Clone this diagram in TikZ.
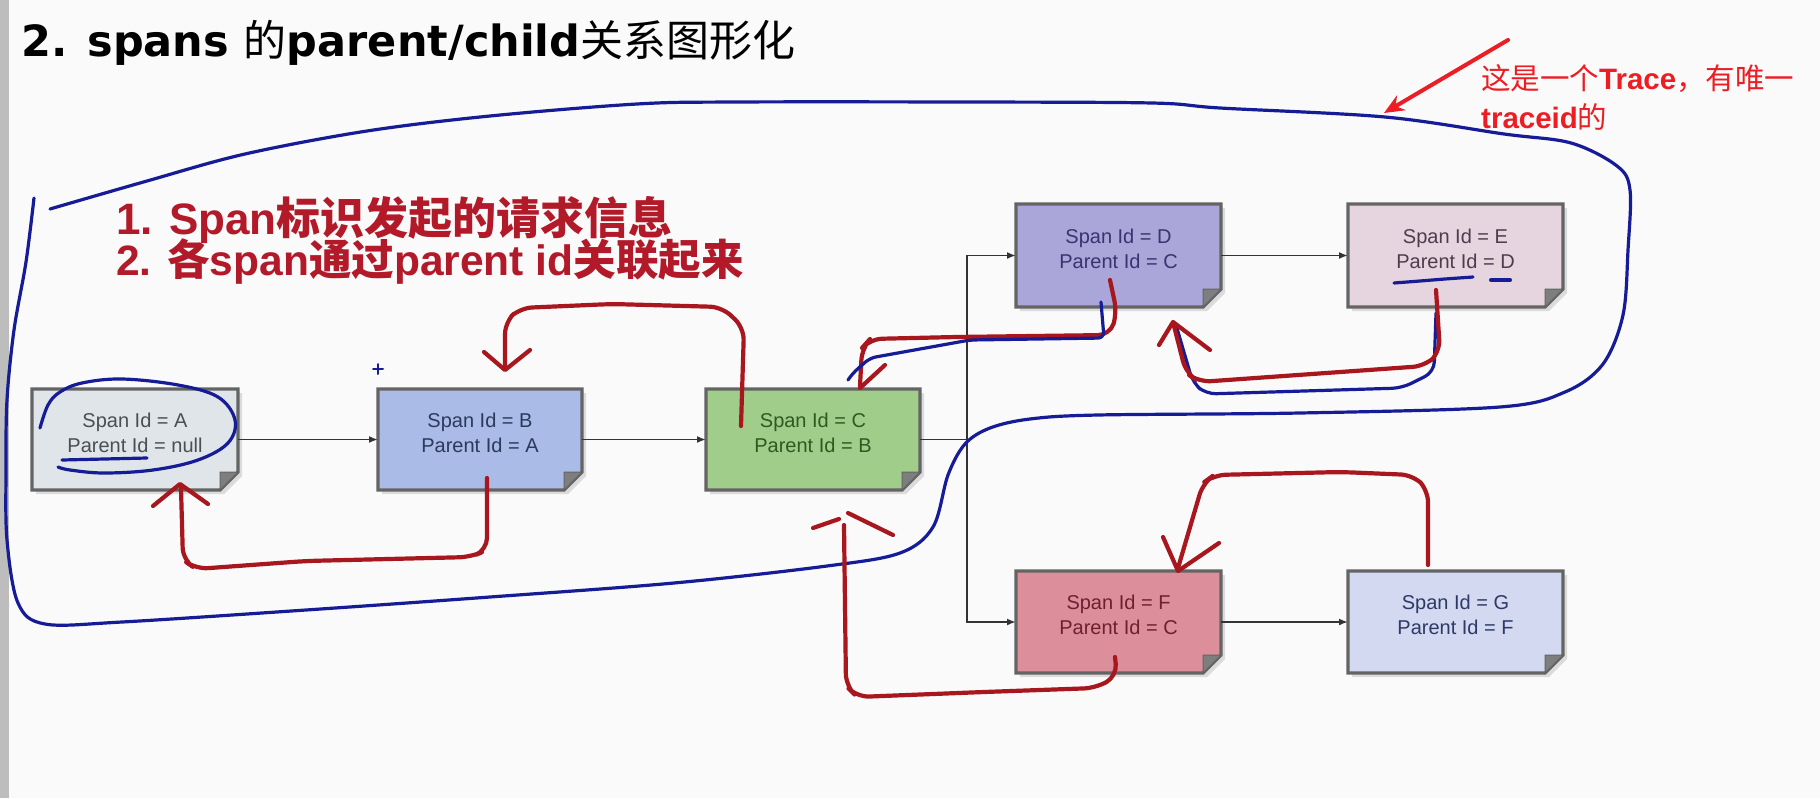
\documentclass[tikz,border=0pt]{standalone}
\usepackage{fontspec}
\setmainfont{Liberation Sans}
\newfontfamily\cjk{Noto Sans CJK SC}
\newfontfamily\dvs{DejaVu Sans}
\usetikzlibrary{arrows.meta}
\definecolor{bgc}{HTML}{FAFAFA}
\definecolor{barc}{HTML}{BDBDBD}
\definecolor{bluepenc}{RGB}{22,28,150}
\definecolor{redpenc}{RGB}{168,22,30}
\definecolor{brightred}{RGB}{236,30,36}
\definecolor{notec}{RGB}{178,26,42}
\definecolor{boxlinec}{HTML}{646464}
\definecolor{flapc}{HTML}{7E7E7E}
\definecolor{fa}{HTML}{DFE5E8}\definecolor{ta}{HTML}{4A4F52}
\definecolor{fb}{HTML}{A9BBE6}\definecolor{tb}{HTML}{2B3A5C}
\definecolor{fcc}{HTML}{A0CE8A}\definecolor{tcc}{HTML}{2E5A20}
\definecolor{fd}{HTML}{AAA6DA}\definecolor{td}{HTML}{3A3370}
\definecolor{fe}{HTML}{E6D5DF}\definecolor{te}{HTML}{4D3D4D}
\definecolor{ff}{HTML}{DC8F9A}\definecolor{tf}{HTML}{6E2030}
\definecolor{fg}{HTML}{D3D9F0}\definecolor{tg}{HTML}{2D3A66}
\tikzset{
  boxline/.style={draw=boxlinec, line width=3.2pt, line join=miter},
  flap/.style={fill=flapc, draw=boxlinec, line width=1pt},
  anchorbox/.style={inner sep=0pt, outer sep=0pt, draw=none},
  spantext/.style={align=center, font=\fontsize{20}{25}\selectfont, inner sep=0pt},
  conn/.style={draw=black!80, line width=1.8pt},
  connarrow/.style={conn, -{Latex[length=9pt,width=7pt]}},
  bluepen/.style={draw=bluepenc, line width=3.2pt, line cap=round, line join=round},
  redpen/.style={draw=redpenc, line width=4.2pt, line cap=round, line join=round},
  redshaft/.style={redpen, rounded corners=12pt},
  notetext/.style={anchor=base west, inner sep=0pt, text=notec, font=\fontsize{44}{44}\selectfont\bfseries},
  tracetext/.style={anchor=base west, inner sep=0pt, text=brightred, font=\fontsize{29.5}{30}\selectfont},
}
\newcommand\spanbox[9]{%
  \fill[black, opacity=0.12] ({#2+4},{#3+4}) -- ({#4+4},{#3+4}) -- ({#4+4},{#5-14}) -- ({#4-14},{#5+4}) -- ({#2+4},{#5+4}) -- cycle;
  \filldraw[boxline, fill=#6] (#2,#3) -- (#4,#3) -- (#4,{#5-18}) -- ({#4-18},#5) -- (#2,#5) -- cycle;
  \filldraw[flap] (#4,{#5-18}) -- ({#4-18},{#5-18}) -- ({#4-18},#5) -- cycle;
  \node[anchorbox, minimum width={#4pt-#2pt}, minimum height={#5pt-#3pt}] (#1) at ({(#2+#4)/2},{(#3+#5)/2}) {};
  \node[spantext, text=#7] (#1-t) at ({(#2+#4)/2},{(#3+#5)/2-7}) {#8\\#9};
}
\begin{document}
\begin{tikzpicture}[x=1pt,y=-1pt]
\useasboundingbox (0,0) rectangle (1820,798);
\fill[bgc] (0,0) rectangle (1820,798);
\fill[barc] (0,0) rectangle (9,798);

% title
\node[anchor=base west, inner sep=0pt, font=\fontsize{43}{43}\selectfont] (title) at (21,56)
  {{\dvs\bfseries 2. spans }{\cjk 的}{\dvs\bfseries parent/child}{\cjk 关系图形化}};

% trace note
\node[tracetext] (trace1) at (1481,89) {{\cjk 这是一个}{\bfseries Trace}{\cjk ，有唯一}};
\node[tracetext] (trace2) at (1481,128) {{\bfseries traceid}{\cjk 的}};
\coordinate (ptrS) at (1508,40);
\coordinate (ptrE) at (1384,113);
\draw[draw=brightred, line width=4pt, line cap=round, -{Stealth[length=20pt,width=17pt]}] (ptrS) -- (ptrE);

% red headline note
\node[notetext, text depth=0pt] (note1) at (116,234) {1. Span{\cjk\bfseries 标识发起的请求信息}};
\node[notetext, font=\fontsize{42.5}{43}\selectfont\bfseries, text height=34pt] (note2) at (116,275) {2. {\cjk\bfseries 各}span{\cjk\bfseries 通过}parent id{\cjk\bfseries 关联起来}};

% boxes
\spanbox{A}{32}{389}{238}{490}{fa}{ta}{Span Id = A}{Parent Id = null}
\spanbox{B}{378}{389}{582}{490}{fb}{tb}{Span Id = B}{Parent Id = A}
\spanbox{C}{706}{389}{920}{490}{fcc}{tcc}{Span Id = C}{Parent Id = B}
\spanbox{D}{1016}{204}{1221}{307}{fd}{td}{Span Id = D}{Parent Id = C}
\spanbox{E}{1348}{204}{1563}{307}{fe}{te}{Span Id = E}{Parent Id = D}
\spanbox{F}{1016}{571}{1221}{673}{ff}{tf}{Span Id = F}{Parent Id = C}
\spanbox{G}{1348}{571}{1563}{673}{fg}{tg}{Span Id = G}{Parent Id = F}

% connectors
\coordinate (J) at (967,439.5);
\draw[connarrow] (A.east) -- (B.west);
\draw[connarrow] (B.east) -- (C.west);
\draw[conn] (C.east) -- (J);
\draw[connarrow] (J) |- (D.west);
\draw[connarrow] (J) |- (F.west);
\draw[connarrow] (D.east) -- (E.west);
\draw[connarrow] (F.east) -- (G.west);

% blue trace loop
\draw[bluepen] plot[smooth, tension=0.55] coordinates {
 (34,198) (26,262) (14,330) (7,400) (6,470) (7,540) (18,603) (45,624) (122,622)
 (306,610) (490,597) (674,583) (827,566) (900,553) (933,527) (948,475) (965,444)
 (990,428) (1030,419) (1098,415) (1300,413) (1500,407) (1565,392) (1603,364)
 (1623,315) (1628,250) (1630,190) (1617,166) (1571,143) (1504,134) (1385,117)
 (1220,108) (1152,103) (960,102) (735,102) (637,104) (490,116) (367,131)
 (245,154) (147,181) (50,209)};
% blue circle around A
\draw[bluepen] plot[smooth, tension=0.6] coordinates {
 (40,428) (48,405) (60,392) (82,383) (122,379) (178,385) (218,397) (235,420)
 (228,443) (198,460) (153,470) (104,473) (70,470) (58,467)};
\draw[bluepen] (62,460) -- (147,458);
% blue marks at E
\draw[bluepen] plot[smooth] coordinates {(1394,283) (1420,281) (1445,279) (1473,277)};
\draw[bluepen, line width=4pt] (1491,280) -- (1510,280);
% blue plus near B
\draw[bluepen, line width=2pt] (373,369) -- (383,369) (378,364) -- (378,374);

% red parent arrows
% C -> B
\draw[redshaft] (741,426) -- (744,328) -- (722,307) -- (612,304) -- (520,308) -- (505,322) -- (505,368);
\draw[redpen] (484,352) -- (505,370) -- (530,350);
% B -> A
\draw[redshaft] (487,478) -- (487,550) -- (471,557) -- (306,561) -- (196,569) -- (183,560) -- (181,488);
\draw[redpen] (153,506) -- (180,484) -- (208,504);
% E -> D
\draw[bluepen, rounded corners=10pt] (1436,313) -- (1434,372) -- (1402,388) -- (1206,394) -- (1193,383) -- (1176,325);
\draw[redshaft] (1436,290) -- (1440,352) -- (1425,366) -- (1199,382) -- (1186,373) -- (1174,326);
\draw[redpen] (1159,345) -- (1173,322) -- (1210,350);
% D -> C
\draw[redshaft] (1110,280) -- (1117,313) -- (1110,335) -- (956,337) -- (870,339) -- (862,348) -- (860,386);
\draw[redpen] (885,365) -- (860,388);
\draw[bluepen, rounded corners=6pt] (1101,302) -- (1104,338) -- (970,340) -- (870,358) -- (853,373) -- (848,380);
% F -> C
\draw[redshaft] (1115,657) -- (1117,676) -- (1096,688) -- (984,692) -- (857,697) -- (846,686) -- (844,525);
\draw[redpen] (813,528) -- (839,519);
\draw[redpen] (848,513) -- (893,535);
% G -> F
\draw[redshaft] (1428,565) -- (1428,490) -- (1413,475) -- (1341,472) -- (1214,475) -- (1203,483) -- (1178,568);
\draw[redpen] (1163,537) -- (1178,571) -- (1219,543);
\end{tikzpicture}
\end{document}
